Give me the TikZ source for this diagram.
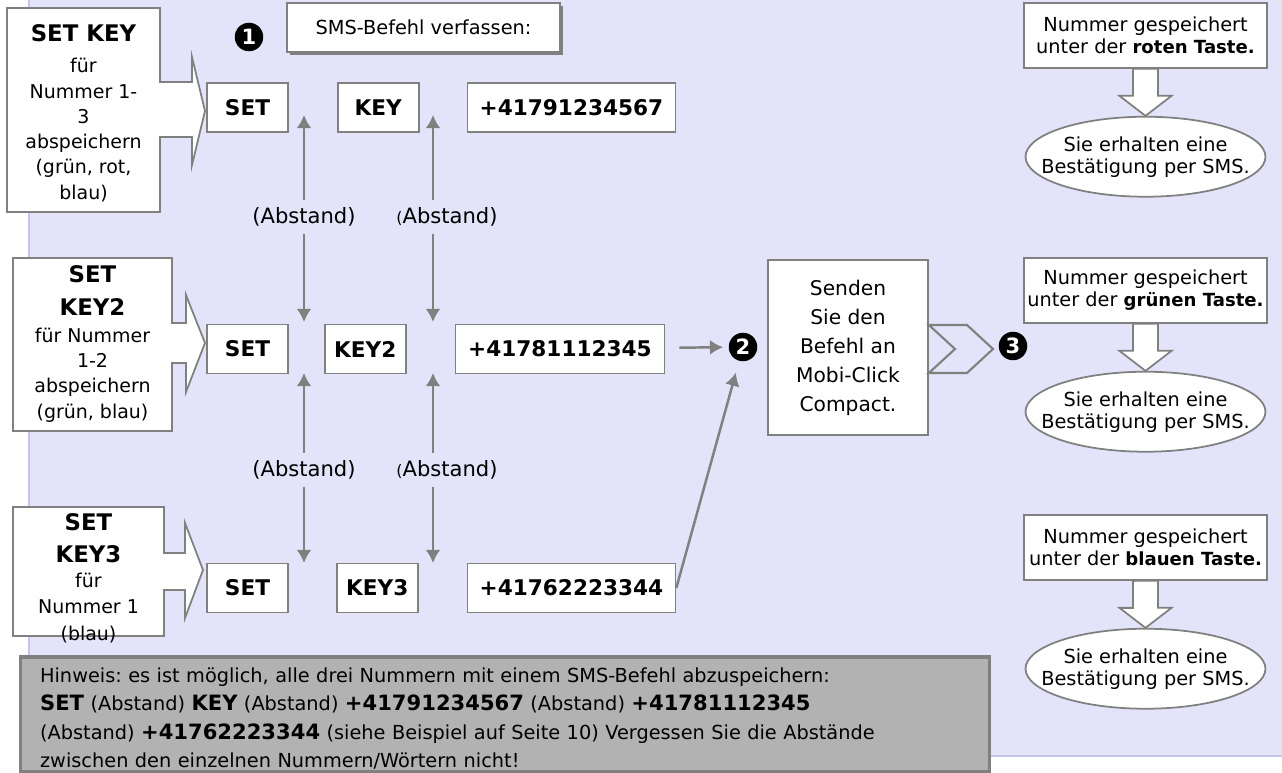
\documentclass[tikz,border=0pt]{standalone}
\usepackage{fontspec}
\setmainfont{DejaVu Sans}
\usetikzlibrary{positioning,shapes.geometric,shadows,arrows.meta}
\frenchspacing

\definecolor{lila}{RGB}{227,227,250}
\definecolor{lilarand}{RGB}{196,196,238}
\definecolor{rand}{RGB}{128,128,128}
\definecolor{hinweisgrau}{RGB}{178,178,178}

\begin{document}
\begin{tikzpicture}[
      x=0.02cm,
      y=-0.02cm,
      node distance=0.96cm,
      >={Latex[length=7.5pt,width=8.5pt]},
      mot/.style={
        draw=rand,
        fill=white,
        line width=1pt,
        minimum width=1.62cm,
        minimum height=0.98cm,
        inner sep=0pt,
        font=\fontsize{12.3}{14}\selectfont\bfseries
      },
      nummer/.style={
        mot,
        minimum width=4.16cm
      },
      case/.style={
        draw=rand,
        fill=white,
        line width=1pt,
        align=center,
        inner sep=0pt,
        font=\fontsize{11}{12.5}\selectfont
      },
      bulle/.style={
        ellipse,
        draw=rand,
        fill=white,
        line width=1pt,
        minimum width=4.8cm,
        minimum height=1.6cm,
        inner xsep=-0.5cm,
        inner ysep=0pt,
        align=center,
        font=\fontsize{11}{12.5}\selectfont
      },
      appel/.style={
        draw=rand,
        fill=white,
        line width=1pt
      },
      texte/.style={
        align=center,
        inner sep=0pt,
        font=\fontsize{10.8}{14.4}\selectfont
      },
      abstand/.style={
        inner ysep=4pt,
        inner xsep=0pt,
        font=\fontsize{12}{14}\selectfont
      },
      zahl/.style={
        circle,
        fill=black,
        text=white,
        inner sep=0pt,
        minimum size=0.57cm,
        font=\fontsize{12}{12}\selectfont\bfseries
      },
      fleche/.style={
        ->,
        draw=rand,
        line width=1.4pt
      }
    ]
    \useasboundingbox (0,0) rectangle (1282,773);
    \fill[lila] (29,0) rectangle (1282,756);
    \draw[lilarand, line width=1pt] (29,0) -- (29,756) -- (1282,756);

    % linke Pfeilkaesten
    \draw[appel] (7,8) -- (160,8) -- (160,82) -- (192,82) -- (192,57) -- (205,111)
      -- (192,165) -- (192,137) -- (160,137) -- (160,212) -- (7,212) -- cycle;
    \draw[appel] (13,258) -- (172,258) -- (172,323) -- (186,323) -- (186,295) -- (205,343)
      -- (186,392) -- (186,363) -- (172,363) -- (172,431) -- (13,431) -- cycle;
    \draw[appel] (13,507) -- (164,507) -- (164,553) -- (185,553) -- (185,523) -- (203,570)
      -- (185,618) -- (185,590) -- (164,590) -- (164,636) -- (13,636) -- cycle;

    \node[texte] (t1) at (83.5,113) {{\fontsize{13}{14.4}\selectfont\bfseries SET KEY}\\[3.6pt]
      für\\ Nummer 1-\\ 3\\ abspeichern\\ (grün, rot,\\ blau)};
    \node[texte] (t2) at (92.5,344) {{\fontsize{13}{14.4}\selectfont\bfseries SET}\\[4pt]
      {\fontsize{13}{14.4}\selectfont\bfseries KEY2}\\[1pt]
      für Nummer\\ 1-2\\ abspeichern\\ (grün, blau)};
    \node[texte] (t3) at (88.5,578) {{\fontsize{13}{14.4}\selectfont\bfseries SET}\\[4pt]
      {\fontsize{13}{14.4}\selectfont\bfseries KEY3}\\
      für\\ Nummer 1\\[1pt] (blau)};

    \node[zahl] (n1) at (249,37) {1};
    \node[case, minimum width=5.46cm, minimum height=0.98cm,
      drop shadow={shadow xshift=1.6pt, shadow yshift=-1.6pt, fill=rand, opacity=1}]
      (sms) at (423.5,27.5) {SMS-Befehl verfassen:};

    % die drei Befehlszeilen
    \node[mot] (set1) at (247.5,107.5) {SET};
    \node[mot, right=0.96cm of set1] (key1) {KEY};
    \node[nummer, right=0.94cm of key1] (num1) {+41791234567};

    \node[mot] (set2) at (247.5,349) {SET};
    \node[mot, right=0.7cm of set2] (key2) {KEY2};
    \node[nummer, right=0.96cm of key2, minimum width=4.18cm] (num2) {+41781112345};

    \node[mot] (set3) at (247.5,588) {SET};
    \node[mot, right=0.94cm of set3] (key3) {KEY3};
    \node[nummer, right=0.96cm of key3] (num3) {+41762223344};

    \node[abstand] (a1) at (304,217) {(Abstand)};
    \node[abstand] (a2) at (447,217) {{\fontsize{9}{10}\selectfont(}Abstand)};
    \node[abstand] (a3) at (304,470) {(Abstand)};
    \node[abstand] (a4) at (447,470) {{\fontsize{9}{10}\selectfont(}Abstand)};

    \node[coordinate] (o1) at (304,115) {};
    \node[coordinate] (o2) at (433,115) {};
    \node[coordinate] (u1) at (304,322) {};
    \node[coordinate] (u2) at (433,322) {};
    \node[coordinate] (o3) at (304,373) {};
    \node[coordinate] (o4) at (433,373) {};
    \node[coordinate] (u3) at (304,563) {};
    \node[coordinate] (u4) at (433,563) {};

    \draw[fleche] (a1) -- (o1);
    \draw[fleche] (a1) -- (u1);
    \draw[fleche] (a2.north -| o2) -- (o2);
    \draw[fleche] (a2.south -| u2) -- (u2);
    \draw[fleche] (a3) -- (o3);
    \draw[fleche] (a3) -- (u3);
    \draw[fleche] (a4.north -| o4) -- (o4);
    \draw[fleche] (a4.south -| u4) -- (u4);

    % senden
    \node[zahl] (n2) at (743,347) {2};
    \draw[fleche, shorten <=0.28cm, shorten >=3pt] (num2) -- (n2);
    \draw[fleche, shorten >=0.24cm] (num3.east) -- (n2);

    \node[case, minimum width=3.2cm, minimum height=3.5cm,
      font=\fontsize{11.5}{16.5}\selectfont] (senden) at (848,347.5)
      {Senden\\ Sie den\\ Befehl an\\ Mobi-Click\\ Compact.};
    \draw[rand, line width=1.2pt] (senden.east |- 0,325) -- (967,325) -- (993,349)
      -- (967,373) -- (senden.east |- 0,373) -- (955,349) -- cycle;
    \node[zahl] (n3) at (1013,346) {3};

    % rechte Spalte
    \node[case, minimum width=4.86cm, minimum height=1.3cm] (r1) at (1145.5,35.5)
      {Nummer gespeichert\\ unter der {\fontsize{10.3}{12.5}\selectfont\bfseries roten Taste.}};
    \node[bulle, below=0.94cm of r1] (e1) {Sie erhalten eine\\ Bestätigung per SMS.};
    \draw[appel] (r1.south) ++(-12.5,0) -- ++(0,27) -- ++(-13.5,0) -- (e1.north)
      -- ++(26,-20) -- ++(-13.5,0) -- ++(0,-27) -- cycle;

    \node[case, minimum width=4.86cm, minimum height=1.3cm] (r2) at (1145.5,290.5)
      {Nummer gespeichert\\ unter der {\fontsize{10.3}{12.5}\selectfont\bfseries grünen Taste.}};
    \node[bulle, below=0.94cm of r2] (e2) {Sie erhalten eine\\ Bestätigung per SMS.};
    \draw[appel] (r2.south) ++(-12.5,0) -- ++(0,27) -- ++(-13.5,0) -- (e2.north)
      -- ++(26,-20) -- ++(-13.5,0) -- ++(0,-27) -- cycle;

    \node[case, minimum width=4.86cm, minimum height=1.3cm] (r3) at (1145.5,547.5)
      {Nummer gespeichert\\ unter der {\fontsize{10.3}{12.5}\selectfont\bfseries blauen Taste.}};
    \node[bulle, below=0.94cm of r3] (e3) {Sie erhalten eine\\ Bestätigung per SMS.};
    \draw[appel] (r3.south) ++(-12.5,0) -- ++(0,27) -- ++(-13.5,0) -- (e3.north)
      -- ++(26,-20) -- ++(-13.5,0) -- ++(0,-27) -- cycle;

    % Hinweis
    \node[draw=rand, fill=hinweisgrau, line width=1.8pt, minimum width=19.4cm,
      minimum height=2.3cm, text width=18.6cm, inner xsep=0.4cm, inner ysep=0pt,
      align=left, font=\fontsize{11}{16}\selectfont] (hinweis) at (505,714.5)
      {\rule{0pt}{13pt}Hinweis: es ist möglich, alle drei Nummern mit einem SMS-Befehl abzuspeichern:\\
      {\large\bfseries SET} (Abstand) {\large\bfseries KEY} (Abstand) {\large\bfseries +41791234567} (Abstand) {\large\bfseries +41781112345}\\
      (Abstand) {\large\bfseries +41762223344} (siehe Beispiel auf Seite 10) Vergessen Sie die Abstände\\
      zwischen den einzelnen Nummern/Wörtern nicht!};

  \end{tikzpicture}
\end{document}
